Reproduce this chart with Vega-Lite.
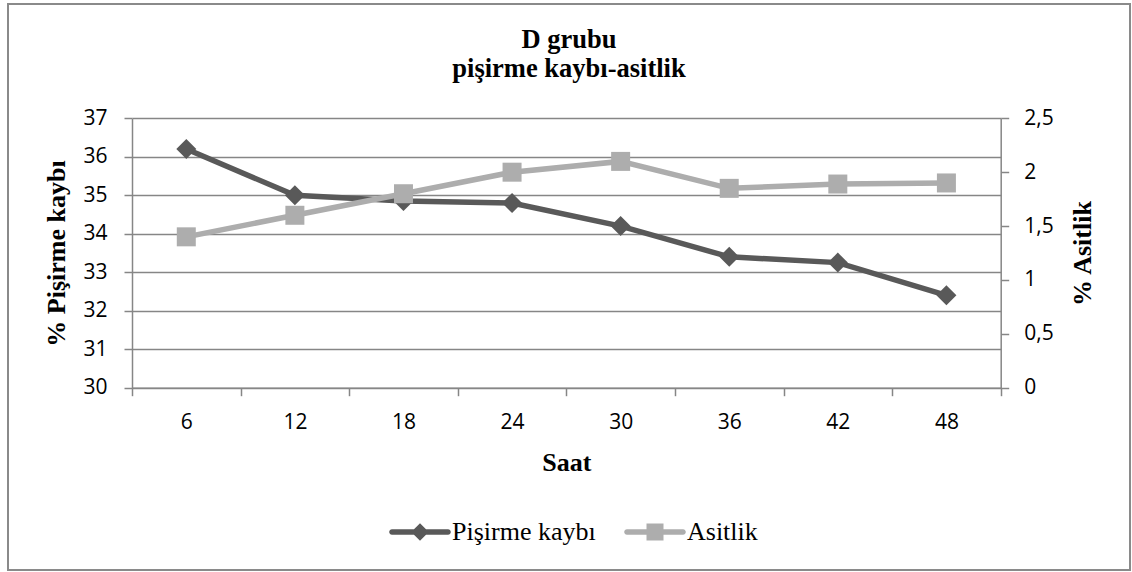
{
  "$schema": "https://vega.github.io/schema/vega-lite/v6.json",
  "width": 1122,
  "height": 566,
  "autosize": "none",
  "padding": {"left": 8, "top": 4, "right": 2, "bottom": 2},
  "background": "white",
  "title": {
    "text": ["D grubu", "pişirme kaybı-asitlik"],
    "font": "Liberation Serif, Times New Roman, serif",
    "fontSize": 26.5,
    "fontWeight": "bold",
    "lineHeight": 29,
    "color": "black",
    "anchor": "middle",
    "frame": "group",
    "offset": -78
  },
  "data": {
    "values": [
      {"saat": 6, "Pişirme kaybı": 36.2, "Asitlik": 1.4},
      {"saat": 12, "Pişirme kaybı": 35.0, "Asitlik": 1.6},
      {"saat": 18, "Pişirme kaybı": 34.85, "Asitlik": 1.8},
      {"saat": 24, "Pişirme kaybı": 34.8, "Asitlik": 2.0},
      {"saat": 30, "Pişirme kaybı": 34.2, "Asitlik": 2.1},
      {"saat": 36, "Pişirme kaybı": 33.4, "Asitlik": 1.85},
      {"saat": 42, "Pişirme kaybı": 33.25, "Asitlik": 1.89},
      {"saat": 48, "Pişirme kaybı": 32.4, "Asitlik": 1.9}
    ]
  },
  "encoding": {
    "x": {
      "field": "saat",
      "type": "ordinal",
      "scale": {"type": "band", "paddingInner": 0, "paddingOuter": 0, "range": [124, 992.7]},
      "axis": {
        "orient": "bottom",
        "offset": -182.3,
        "tickBand": "extent",
        "labelAngle": 0,
        "grid": false,
        "title": "Saat",
        "titleFont": "Liberation Serif, Times New Roman, serif",
        "titleFontSize": 26,
        "titleFontWeight": "bold",
        "titleColor": "black",
        "titlePadding": 17,
        "labelFont": "Open Sans",
        "labelFontSize": 21,
        "labelColor": "black",
        "labelPadding": 16,
        "tickSize": 8
      }
    }
  },
  "layer": [
    {
      "encoding": {
        "y": {
          "field": "Pişirme kaybı",
          "type": "quantitative",
          "scale": {"domain": [30, 37], "nice": false, "zero": false, "range": [383.7, 114.3]},
          "axis": {
            "orient": "left",
            "offset": -124,
            "values": [30, 31, 32, 33, 34, 35, 36, 37],
            "grid": true,
            "title": "% Pişirme kaybı",
            "titleFont": "Liberation Serif, Times New Roman, serif",
            "titleFontSize": 26,
            "titleFontWeight": "bold",
            "titleColor": "black",
            "titlePadding": 13,
            "labelFont": "Open Sans",
            "labelFontSize": 21,
            "labelColor": "black",
            "labelPadding": 17,
            "tickSize": 8
          }
        }
      },
      "layer": [
        {"mark": {"type": "line", "color": "#595959", "strokeWidth": 5.5}},
        {"mark": {"type": "point", "shape": "diamond", "size": 400, "filled": true, "opacity": 1, "color": "#595959"}}
      ]
    },
    {
      "encoding": {
        "y": {
          "field": "Asitlik",
          "type": "quantitative",
          "scale": {"domain": [0, 2.5], "nice": false, "range": [383.7, 114.3]},
          "axis": {
            "orient": "right",
            "offset": -129.3,
            "values": [0, 0.5, 1, 1.5, 2, 2.5],
            "format": "~g",
            "labelExpr": "replace(datum.label, '.', ',')",
            "grid": false,
            "title": "% Asitlik",
            "titleAngle": 270,
            "titleFont": "Liberation Serif, Times New Roman, serif",
            "titleFontSize": 26,
            "titleFontWeight": "bold",
            "titleColor": "black",
            "titlePadding": 42,
            "labelFont": "Open Sans",
            "labelFontSize": 21,
            "labelColor": "black",
            "labelPadding": 15,
            "tickSize": 8
          }
        }
      },
      "layer": [
        {"mark": {"type": "line", "color": "#ADADAD", "strokeWidth": 5.5}},
        {"mark": {"type": "point", "shape": "square", "size": 361, "filled": true, "opacity": 1, "color": "#ADADAD"}}
      ]
    },
    {
      "transform": [
        {"fold": ["Pişirme kaybı", "Asitlik"], "as": ["seri", "deger"]},
        {"filter": "false"}
      ],
      "mark": {"type": "point", "filled": true, "size": 400, "opacity": 1},
      "encoding": {
        "color": {
          "field": "seri",
          "type": "nominal",
          "scale": {"domain": ["Pişirme kaybı", "Asitlik"], "range": ["#595959", "#ADADAD"]},
          "legend": {
            "title": null,
            "orient": "none",
            "direction": "horizontal",
            "legendX": 399,
            "legendY": 515,
            "padding": 0,
            "symbolSize": 400,
            "symbolStrokeWidth": 0,
            "symbolOpacity": 1,
            "labelFont": "Liberation Serif, Times New Roman, serif",
            "labelFontSize": 26,
            "labelColor": "black",
            "labelOffset": 19,
            "columnPadding": 28
          }
        },
        "shape": {
          "field": "seri",
          "type": "nominal",
          "scale": {
            "domain": ["Pişirme kaybı", "Asitlik"],
            "range": [
              "M-2.8,-0.28 L2.8,-0.28 A0.28,0.28 0 0 1 2.8,0.28 L-2.8,0.28 A0.28,0.28 0 0 1 -2.8,-0.28 Z M0,-0.88 L0.88,0 L0,0.88 L-0.88,0 Z",
              "M-2.8,-0.28 L2.8,-0.28 A0.28,0.28 0 0 1 2.8,0.28 L-2.8,0.28 A0.28,0.28 0 0 1 -2.8,-0.28 Z M-0.85,-0.85 L0.85,-0.85 L0.85,0.85 L-0.85,0.85 Z"
            ]
          }
        }
      }
    }
  ],
  "resolve": {"scale": {"y": "independent"}},
  "config": {
    "view": {"stroke": "#8a8a8a", "strokeWidth": 2},
    "axis": {
      "domainColor": "#868686",
      "domainWidth": 1.5,
      "tickColor": "#868686",
      "tickWidth": 1.5,
      "gridColor": "#868686",
      "gridWidth": 1.5,
      "gridOpacity": 1
    }
  }
}
